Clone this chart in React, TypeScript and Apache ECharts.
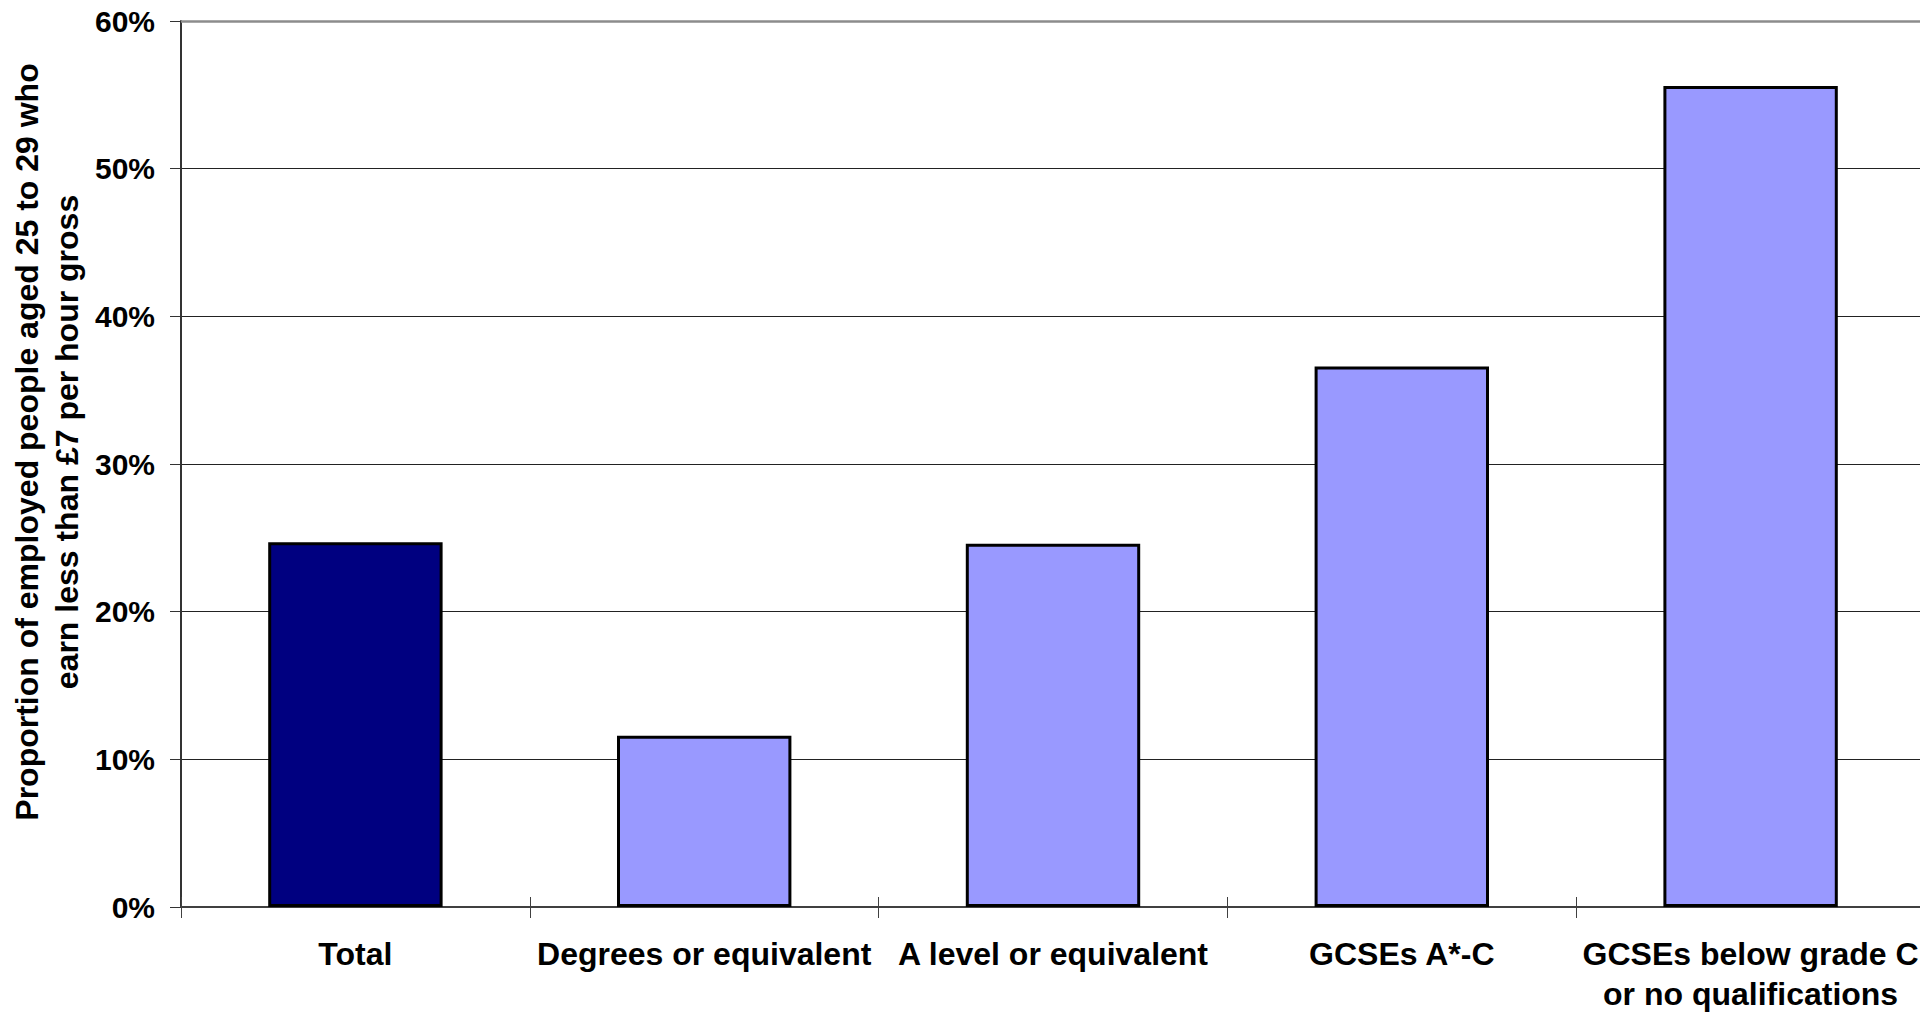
import React, { useEffect, useRef } from "react";
import * as echarts from "echarts";

const categories = [
  "Total",
  "Degrees or equivalent",
  "A level or equivalent",
  "GCSEs A*-C",
  "GCSEs below grade C\nor no qualifications",
];
const values = [24.7, 11.6, 24.6, 36.6, 55.6];
const barColors = ["#000080", "#9999FF", "#9999FF", "#9999FF", "#9999FF"];
const yTicks = { min: 0, max: 60, interval: 10 };
const yTitle = "Proportion of employed people aged 25 to 29 who\nearn less than £7 per hour gross";

const FONT = '"Liberation Sans", Arial, sans-serif';

export default function App() {
  const ref = useRef<HTMLDivElement>(null);
  useEffect(() => {
    document.body.style.margin = "0";
    const chart = echarts.init(ref.current!, null, { renderer: "svg" });
    chart.setOption({
      animation: false,
      backgroundColor: "#ffffff",
      grid: {
        left: 181,
        top: 21,
        width: 1744,
        height: 886,
        containLabel: false,
        outerBoundsMode: "none",
      },
      xAxis: [
        {
          type: "category",
          data: categories,
          position: "bottom",
          axisLine: { show: true, lineStyle: { color: "#404040", width: 2 } },
          axisTick: { show: true, length: 11, lineStyle: { color: "#404040", width: 1 } },
          axisLabel: {
            interval: 0,
            margin: 27,
            color: "#000",
            fontFamily: FONT,
            fontWeight: "bold",
            fontSize: 32,
            lineHeight: 40,
            align: "center",
          },
        },
        {
          type: "category",
          data: categories,
          position: "bottom",
          axisLine: { show: false },
          axisTick: { show: true, inside: true, length: 10, lineStyle: { color: "#404040", width: 1 } },
          axisLabel: { show: false },
        },
      ],
      yAxis: {
        type: "value",
        min: yTicks.min,
        max: yTicks.max,
        interval: yTicks.interval,
        axisLine: { show: true, lineStyle: { color: "#333", width: 2 } },
        axisTick: { show: true, length: 11, lineStyle: { color: "#333", width: 1 } },
        axisLabel: {
          formatter: "{value}%",
          margin: 26,
          color: "#000",
          fontFamily: FONT,
          fontWeight: "bold",
          fontSize: 30,
        },
        splitLine: { show: true, lineStyle: { color: "#222", width: 1 } },
      },
      series: [
        {
          type: "bar",
          xAxisIndex: 0,
          barWidth: "50%",
          data: values.map((v, i) => ({
            value: v,
            itemStyle: { color: barColors[i], borderColor: "#000", borderWidth: 3 },
          })),
          markLine: {
            silent: true,
            symbol: "none",
            label: { show: false },
            lineStyle: { color: "#8c8c8c", width: 2.5, type: "solid" },
            data: [{ yAxis: yTicks.max }],
          },
        },
      ],
      graphic: [
        {
          type: "text",
          x: 47,
          y: 442,
          rotation: Math.PI / 2,
          style: {
            text: yTitle,
            fontFamily: FONT,
            fontWeight: "bold",
            fontSize: 32,
            lineHeight: 40,
            align: "center",
            verticalAlign: "middle",
            fill: "#000",
          },
        },
      ],
    });
    return () => chart.dispose();
  }, []);
  return <div ref={ref} style={{ width: 1920, height: 1012 }} />;
}
